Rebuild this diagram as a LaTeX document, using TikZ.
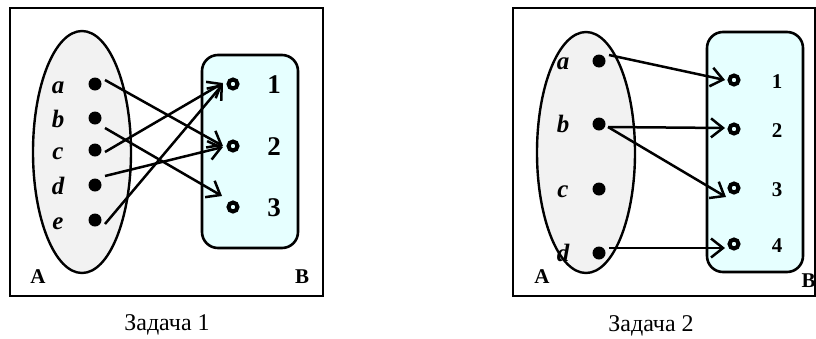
\documentclass[tikz,border=0pt]{standalone}
\usepackage{fontspec}
\setmainfont{Liberation Serif}
\usetikzlibrary{shapes.geometric,arrows.meta}
\definecolor{setA}{HTML}{F2F2F2}
\definecolor{setB}{HTML}{E6FFFF}
\tikzset{
  frame/.style={draw, line width=2.4pt},
  setellipse/.style={ellipse, draw, fill=setA, line width=2.4pt, inner sep=0pt},
  setbox/.style={rectangle, draw, fill=setB, line width=2.6pt, rounded corners=16pt, inner sep=0pt},
  dotA/.style={circle, fill=black, inner sep=0pt, minimum size=13pt},
  ringB/.style={circle, draw, line width=4pt, inner sep=0pt, minimum size=9pt},
  elemlbl/.style={font=\fontsize{25}{25}\selectfont\bfseries\itshape, anchor=base, inner sep=0pt},
  numbig/.style={font=\fontsize{27}{27}\selectfont\bfseries, anchor=base, inner sep=0pt},
  numsmall/.style={font=\fontsize{21}{21}\selectfont\bfseries, anchor=base, inner sep=0pt},
  setlbl/.style={font=\fontsize{21}{21}\selectfont\bfseries, anchor=base, inner sep=0pt},
  caption/.style={font=\fontsize{24}{24}\selectfont, anchor=base, inner sep=0pt},
  maparrow/.style={line width=2.5pt, -{Straight Barb[length=12pt,width=19pt,line width=2.5pt]}}
}
\begin{document}
\begin{tikzpicture}[x=1pt,y=-1pt]
\useasboundingbox (0,0) rectangle (816,338);
% ---------- Task 1 ----------
\node[frame, minimum width=313pt, minimum height=288pt, inner sep=0pt] (F1) at (166.5,152) {};
\node[setellipse, minimum width=98pt, minimum height=242pt] (A1) at (82,152) {};
\node[setbox, minimum width=96pt, minimum height=193pt] (B1) at (250,151.5) {};
\foreach \n/\y in {a/84,b/118,c/150,d/185,e/220}{
  \node[dotA] (l\n) at (95,\y) {};
  \node[elemlbl] (t\n) at (58,\y+9) {\n};
}
\foreach \n/\y in {1/84,2/146,3/207}{
  \node[ringB] (r\n) at (233,\y) {};
  \node[numbig] (m\n) at (274,\y+9) {\n};
}
\node[setlbl] (LA1) at (38,283) {A};
\node[setlbl] (LB1) at (302,283) {B};
\draw[maparrow] ([shift={(10,-4)}]la.center) -- ([shift={(-10,0)}]r2.center);
\draw[maparrow] ([shift={(10,10)}]lb.center) -- ([shift={(-11,-11)}]r3.center);
\draw[maparrow] ([shift={(10,2)}]lc.center) -- ([shift={(-10,-1)}]r1.center);
\draw[maparrow] ([shift={(10,-9)}]ld.center) -- ([shift={(-10,1)}]r2.center);
\draw[maparrow] ([shift={(10,4)}]le.center) -- ([shift={(-10,0)}]r1.center);
\node[caption] (C1) at (167,330) {Задача 1};
% ---------- Task 2 ----------
\node[frame, minimum width=302pt, minimum height=288pt, inner sep=0pt] (F2) at (664,152) {};
\node[setellipse, minimum width=98pt, minimum height=241pt] (A2) at (586,152.5) {};
\node[setbox, minimum width=96pt, minimum height=240pt] (B2) at (755,152) {};
\foreach \n/\y in {a/61,b/124,c/189,d/253}{
  \node[dotA] (p\n) at (599,\y) {};
  \node[elemlbl] (s\n) at (563,\y+8) {\n};
}
\foreach \n/\y in {1/80,2/129,3/188,4/244}{
  \node[ringB] (q\n) at (734,\y) {};
  \node[numsmall] (k\n) at (777,\y+8) {\n};
}
\node[setlbl] (LA2) at (542,283) {A};
\node[setlbl] (LB2) at (808.5,287) {B};
\draw[maparrow] ([shift={(10,-6)}]pa.center) -- ([shift={(-9,0)}]q1.center);
\draw[maparrow] ([shift={(9,3)}]pb.center) -- ([shift={(-9,-1)}]q2.center);
\draw[maparrow] ([shift={(9,3)}]pb.center) -- ([shift={(-8,9)}]q3.center);
\draw[maparrow] ([shift={(10,-5)}]pd.center) -- ([shift={(-9,4)}]q4.center);
\node[caption] (C2) at (651,331) {Задача 2};
\end{tikzpicture}
\end{document}
